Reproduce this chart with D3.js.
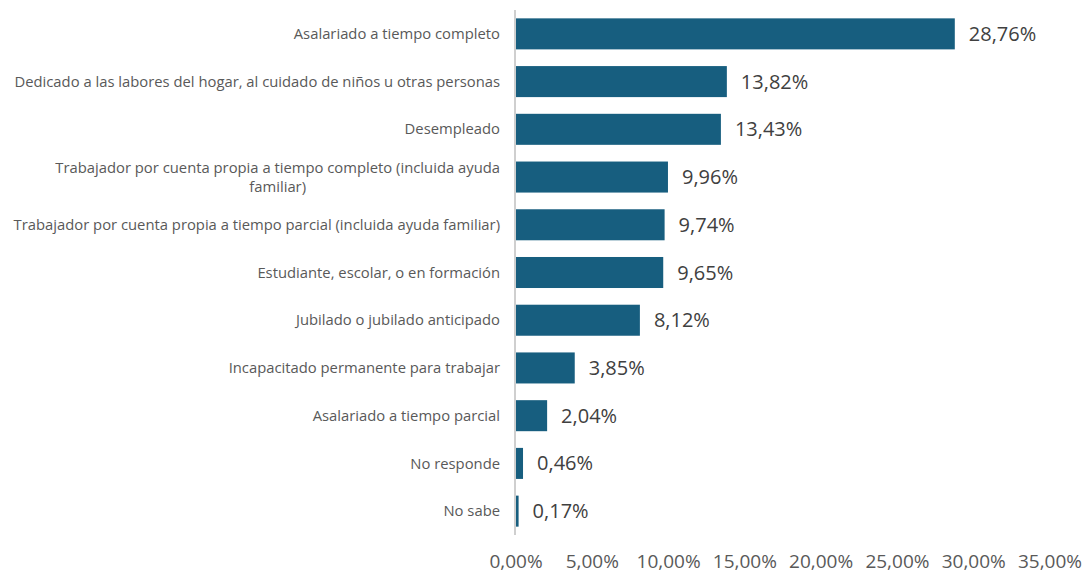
<!DOCTYPE html>
<html>
<head>
<meta charset="utf-8">
<script src="https://cdn.jsdelivr.net/npm/d3@7"></script>
<style>
  body { margin: 0; background: #fff; }
  svg { display: block; font-family: "Open Sans", Roboto, sans-serif; }
</style>
</head>
<body>
<svg id="chart" width="1088" height="573"></svg>
<script>
// categories, top to bottom
var categories = [
  "Asalariado a tiempo completo",
  "Dedicado a las labores del hogar, al cuidado de niños u otras personas",
  "Desempleado",
  "Trabajador por cuenta propia a tiempo completo (incluida ayuda familiar)",
  "Trabajador por cuenta propia a tiempo parcial (incluida ayuda familiar)",
  "Estudiante, escolar, o en formación",
  "Jubilado o jubilado anticipado",
  "Incapacitado permanente para trabajar",
  "Asalariado a tiempo parcial",
  "No responde",
  "No sabe"
];
var values = [28.76, 13.82, 13.43, 9.96, 9.74, 9.65, 8.12, 3.85, 2.04, 0.46, 0.17];
var ticks = [0, 5, 10, 15, 20, 25, 30, 35];

var barColor = "#175e7f";
var fmt = function(v) { return v.toFixed(2).replace(".", ",") + "%"; };

var svg = d3.select("#chart");

var x = d3.scaleLinear().domain([0, 35]).range([516, 1050]);
var y = d3.scaleBand().domain(categories).range([10, 535]).paddingInner(0.35).paddingOuter(0.175);

// bars
svg.selectAll("rect.bar")
  .data(values)
  .enter().append("rect")
  .attr("class", "bar")
  .attr("x", x(0))
  .attr("y", function(d, i) { return y(categories[i]); })
  .attr("width", function(d) { return x(d) - x(0); })
  .attr("height", y.bandwidth())
  .attr("fill", barColor);

// value labels
svg.selectAll("text.val")
  .data(values)
  .enter().append("text")
  .attr("class", "val")
  .attr("x", function(d) { return x(d) + 14; })
  .attr("y", function(d, i) { return y(categories[i]) + y.bandwidth() / 2; })
  .attr("dy", "0.35em")
  .attr("font-size", 20)
  .attr("fill", "#404040")
  .text(fmt);

// vertical axis line
svg.append("line")
  .attr("x1", 515).attr("x2", 515)
  .attr("y1", 10).attr("y2", 535)
  .attr("stroke", "#bfbfbf")
  .attr("stroke-width", 1.5);

// category labels, wrapped
var maxW = 492;
svg.selectAll("text.cat")
  .data(categories)
  .enter().append("text")
  .attr("class", "cat")
  .attr("text-anchor", "end")
  .attr("font-size", 14.8)
  .attr("fill", "#595959")
  .each(function(d) {
    var el = d3.select(this);
    var words = d.split(" ");
    var lines = [], line = [];
    var probe = el.append("tspan");
    words.forEach(function(w) {
      line.push(w);
      probe.text(line.join(" "));
      if (probe.node().getComputedTextLength() > maxW && line.length > 1) {
        line.pop();
        lines.push(line.join(" "));
        line = [w];
      }
    });
    lines.push(line.join(" "));
    probe.remove();
    var cy = y(d) + y.bandwidth() / 2;
    var lh = 19;
    lines.forEach(function(l, k) {
      el.append("tspan")
        .attr("x", 500)
        .attr("y", cy + (k - (lines.length - 1) / 2) * lh)
        .attr("dy", "0.35em")
        .text(l);
    });
    // centre wrapped continuation lines under the first one
    if (lines.length > 1) {
      var tsp = el.selectAll("tspan").nodes();
      var w0 = tsp[0].getComputedTextLength();
      for (var k = 1; k < tsp.length; k++) {
        d3.select(tsp[k]).attr("text-anchor", "middle").attr("x", 500 - w0 / 2);
      }
    }
  });

// x axis tick labels
svg.selectAll("text.tick")
  .data(ticks)
  .enter().append("text")
  .attr("class", "tick")
  .attr("x", function(d) { return x(d); })
  .attr("y", 561)
  .attr("dy", "0.35em")
  .attr("text-anchor", "middle")
  .attr("font-size", 19)
  .attr("fill", "#595959")
  .text(fmt);
</script>
</body>
</html>
